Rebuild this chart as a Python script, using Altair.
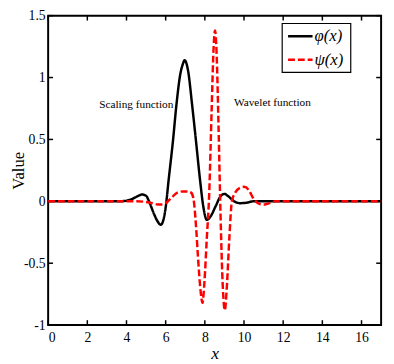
import altair as alt
import pandas as pd

# ---- data ----
series_names = ["φ(x)", "ψ(x)"]

phi_x = [0, 1, 2, 3, 3.6, 4.0, 4.3, 4.55, 4.8, 5.0, 5.15, 5.4, 5.6, 5.75, 5.9,
         6.0, 6.15, 6.38, 6.55, 6.75, 6.88, 6.97, 7.05, 7.15, 7.35, 7.54, 7.75,
         7.93, 8.1, 8.3, 8.55, 8.8, 9.0, 9.2, 9.5, 9.8, 10.1, 10.5, 11, 12, 13,
         14, 15, 16, 17]
phi_y = [0, 0, 0, 0, 0, 0.005, 0.02, 0.04, 0.055, 0.045, 0.0, -0.1, -0.165,
         -0.19, -0.14, -0.05, 0.17, 0.5, 0.78, 1.03, 1.11, 1.14, 1.12, 1.05,
         0.78, 0.5, 0.18, -0.05, -0.15, -0.12, -0.04, 0.04, 0.06, 0.04, 0.0,
         -0.015, -0.012, 0, 0, 0, 0, 0, 0, 0, 0]

psi_x = [0, 1, 2, 3, 4, 4.5, 5.0, 5.3, 5.6, 5.8, 6.0, 6.3, 6.6, 6.9, 7.1, 7.3,
         7.42, 7.55, 7.65, 7.78, 7.88, 7.98, 8.1, 8.22, 8.35, 8.45, 8.52, 8.6,
         8.7, 8.8, 8.92, 9.02, 9.12, 9.25, 9.38, 9.55, 9.8, 10.0, 10.25, 10.45,
         10.6, 10.8, 11.05, 11.3, 11.6, 12, 13, 14, 15, 16, 17]
psi_y = [0, 0, 0, 0, 0, 0, -0.005, -0.015, -0.025, -0.025, -0.015, 0.03, 0.07,
         0.08, 0.08, 0.07, 0.02, -0.2, -0.45, -0.72, -0.82, -0.65, -0.3, 0.05,
         0.75, 1.25, 1.38, 1.2, 0.6, -0.1, -0.7, -0.88, -0.7, -0.3, 0.0, 0.07,
         0.11, 0.117, 0.09, 0.03, 0.0, -0.022, -0.026, -0.015, 0, 0, 0, 0, 0,
         0, 0]

x_ticks = [0, 2, 4, 6, 8, 10, 12, 14, 16]
y_ticks = [-1, -0.5, 0, 0.5, 1, 1.5]

ann_text = ["Scaling function", "Wavelet function"]
ann_x = [4.5, 11.45]
ann_y = [0.78, 0.79]

# ---- build tables ----
rows = []
for i, (x, y) in enumerate(zip(phi_x, phi_y)):
    rows.append({"x": x, "y": y, "series": series_names[0], "o": i})
for i, (x, y) in enumerate(zip(psi_x, psi_y)):
    rows.append({"x": x, "y": y, "series": series_names[1], "o": i})
df = pd.DataFrame(rows)
xt = pd.DataFrame({"v": x_ticks})
yt = pd.DataFrame({"v": y_ticks})
ann = pd.DataFrame({"t": ann_text, "x": ann_x, "y": ann_y})

W, H = 340, 316
FONT = "Liberation Serif"
TL = 5

xs = alt.Scale(domain=[0, 17], nice=False, zero=False)
ys = alt.Scale(domain=[-1, 1.5], nice=False, zero=False)
cs = alt.Scale(domain=series_names, range=["black", "#ff0000"])
ds = alt.Scale(domain=series_names, range=[[1, 0], [7, 3]])

lines = alt.Chart(df).mark_line(strokeWidth=2.5, interpolate="monotone").encode(
    x=alt.X("x:Q", scale=xs, axis=alt.Axis(
        values=x_ticks, title="x", titleFontStyle="italic", titleFont=FONT,
        titleFontSize=18, titleFontWeight="normal", titleColor="black",
        titlePadding=0, labelFont=FONT, labelFontSize=14, labelColor="black",
        labelPadding=6, ticks=False, domain=False, grid=False,
        labelExpr="'' + datum.value")),
    y=alt.Y("y:Q", scale=ys, axis=alt.Axis(
        values=y_ticks, title="Value", titleFont=FONT, titleFontSize=17,
        titleFontWeight="normal", titleColor="black", titleX=-21,
        labelFont=FONT, labelFontSize=14, labelColor="black", labelPadding=3,
        ticks=False, domain=False, grid=False,
        labelExpr="'' + datum.value")),
    color=alt.Color("series:N", scale=cs, legend=None),
    strokeDash=alt.StrokeDash("series:N", scale=ds, legend=None),
    order="o:Q",
)

text = alt.Chart(ann).mark_text(font=FONT, fontSize=11.5, color="black").encode(
    x=alt.X("x:Q", scale=xs), y=alt.Y("y:Q", scale=ys), text="t:N")

tick_style = dict(color="black", strokeWidth=1.5)
bt = alt.Chart(xt).mark_rule(**tick_style).encode(
    x=alt.X("v:Q", scale=xs), y=alt.value(H), y2=alt.value(H - TL))
tt = alt.Chart(xt).mark_rule(**tick_style).encode(
    x=alt.X("v:Q", scale=xs), y=alt.value(0), y2=alt.value(TL))
lt = alt.Chart(yt).mark_rule(**tick_style).encode(
    y=alt.Y("v:Q", scale=ys), x=alt.value(0), x2=alt.value(TL))
rt = alt.Chart(yt).mark_rule(**tick_style).encode(
    y=alt.Y("v:Q", scale=ys), x=alt.value(W), x2=alt.value(W - TL))

# ---- legend (box, sample lines, labels) ----
LX0, LX1, LY0, LY1 = 239, 309, 8, 58
legend_rows = [21, 45]
box = alt.Chart(pd.DataFrame({"k": [0]})).mark_rect(
    fill="white", stroke="black", strokeWidth=1.2).encode(
    x=alt.value(LX0), x2=alt.value(LX1), y=alt.value(LY0), y2=alt.value(LY1))
leg_layers = [box]
for name, ry in zip(series_names, legend_rows):
    d = pd.DataFrame({"series": [name]})
    leg_layers.append(alt.Chart(d).mark_rule(strokeWidth=2.5).encode(
        x=alt.value(LX0 + 6), x2=alt.value(LX0 + 31), y=alt.value(ry),
        color=alt.Color("series:N", scale=cs, legend=None),
        strokeDash=alt.StrokeDash("series:N", scale=ds, legend=None)))
    leg_layers.append(alt.Chart(d).mark_text(
        font=FONT, fontSize=17, fontStyle="italic", align="left",
        baseline="middle", color="black").encode(
        x=alt.value(LX0 + 33), y=alt.value(ry), text="series:N"))

chart = alt.layer(bt, tt, lt, rt, lines, text, *leg_layers).properties(
    width=W, height=H,
    autosize=alt.AutoSizeParams(type="none"),
    padding={"left": 41, "top": 4, "right": 5, "bottom": 40},
    background="white",
).configure_view(stroke="black", strokeWidth=2)

chart.save("out.html", embed_options={"renderer": "svg", "actions": False})
